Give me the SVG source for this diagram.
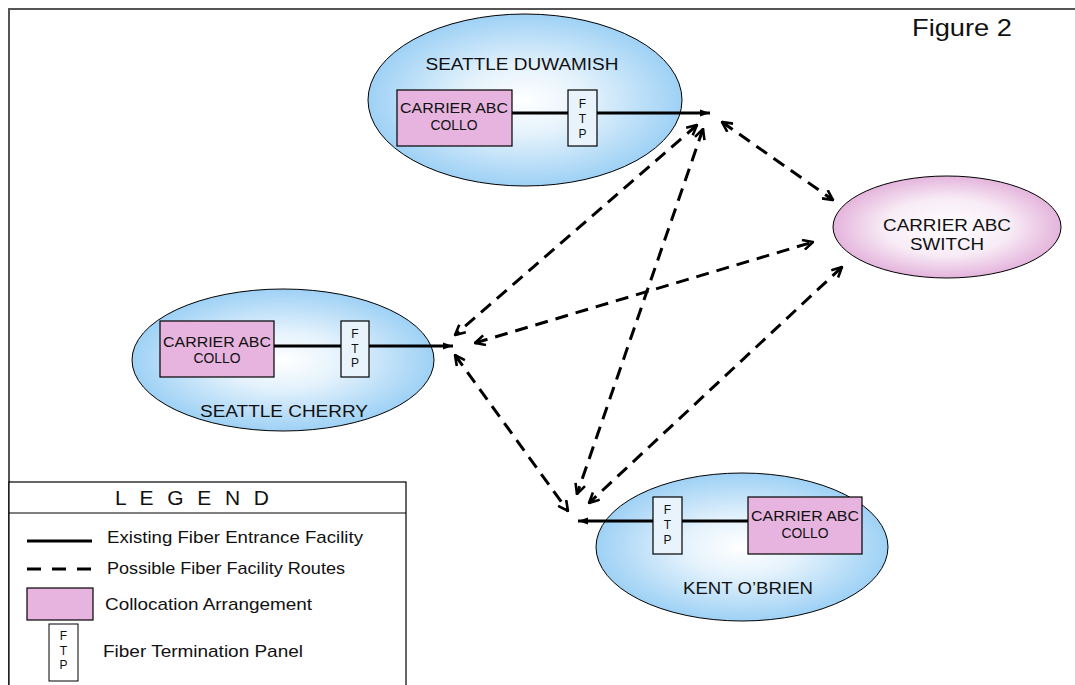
<svg xmlns="http://www.w3.org/2000/svg" width="1075" height="685" viewBox="0 0 1075 685">
<defs>
<radialGradient id="blue" cx="50%" cy="50%" r="50%">
<stop offset="0" stop-color="#ffffff"/>
<stop offset="0.4" stop-color="#e4f2fc"/>
<stop offset="1" stop-color="#9ed1f5"/>
</radialGradient>
<radialGradient id="pink" cx="50%" cy="50%" r="50%">
<stop offset="0" stop-color="#ffffff"/>
<stop offset="0.55" stop-color="#f8ecf6"/>
<stop offset="1" stop-color="#e4b4dc"/>
</radialGradient>
<marker id="open" viewBox="0 0 12 12" refX="11" refY="6" markerWidth="12" markerHeight="12" markerUnits="userSpaceOnUse" orient="auto-start-reverse">
<path d="M1,1 L11,6 L1,11" fill="none" stroke="#000" stroke-width="2.6"/>
</marker>
<marker id="solid" viewBox="0 0 10 10" refX="10" refY="5" markerWidth="10" markerHeight="10" markerUnits="userSpaceOnUse" orient="auto">
<path d="M0,1.5 L10,5 L0,8.5 Z" fill="#000"/>
</marker>
</defs>
<style>
text{font-family:"Liberation Sans",Arial,sans-serif;fill:#111}
.node{stroke:#000;stroke-width:1}
.collo{fill:#e6b4de;stroke:#000;stroke-width:1.2}
.ftp{fill:#e8f3fb;stroke:#000;stroke-width:1.2}
.lbl{font-size:16px;text-anchor:middle}
.cl{font-size:14px;text-anchor:middle}
.ft{font-size:12px;text-anchor:middle}
.exist{stroke:#000;stroke-width:3;fill:none}
.arr{marker-end:url(#solid)}
.route{stroke:#000;stroke-width:3;fill:none;stroke-dasharray:13 8;marker-start:url(#open);marker-end:url(#open)}
.frame{stroke:#555;stroke-width:2;fill:none}
.leg{font-size:17px}
</style>
<g id="frame">
<path class="frame" d="M9,686 L9,9 L1076,9"/>
</g>
<text x="912" y="36" style="font-size:24px" textLength="100" lengthAdjust="spacingAndGlyphs">Figure 2</text>
<g id="seattle-duwamish">
<ellipse class="node" cx="525" cy="100" rx="157" ry="86" fill="url(#blue)"/>
<text class="lbl" x="522" y="70" textLength="193" lengthAdjust="spacingAndGlyphs">SEATTLE DUWAMISH</text>
<rect class="collo" x="397" y="90" width="115" height="56"/>
<text class="cl" x="454" y="113" textLength="108" lengthAdjust="spacingAndGlyphs">CARRIER ABC</text>
<text class="cl" x="454" y="130" textLength="47" lengthAdjust="spacingAndGlyphs">COLLO</text>
<rect class="ftp" x="568" y="90" width="29" height="56"/>
<text class="ft" x="582.5" y="108">F</text>
<text class="ft" x="582.5" y="123">T</text>
<text class="ft" x="582.5" y="138">P</text>
</g>
<g id="seattle-cherry">
<ellipse class="node" cx="283" cy="360" rx="151" ry="71" fill="url(#blue)"/>
<rect class="collo" x="160" y="321" width="114" height="56"/>
<text class="cl" x="217" y="347" textLength="108" lengthAdjust="spacingAndGlyphs">CARRIER ABC</text>
<text class="cl" x="217" y="363" textLength="47" lengthAdjust="spacingAndGlyphs">COLLO</text>
<rect class="ftp" x="341" y="321" width="28" height="56"/>
<text class="ft" x="355" y="338">F</text>
<text class="ft" x="355" y="353">T</text>
<text class="ft" x="355" y="367">P</text>
<text class="lbl" x="284" y="417" textLength="168" lengthAdjust="spacingAndGlyphs">SEATTLE CHERRY</text>
</g>
<g id="kent-obrien">
<ellipse class="node" cx="742" cy="547" rx="146" ry="74" fill="url(#blue)"/>
<rect class="ftp" x="653" y="497" width="29" height="57"/>
<text class="ft" x="667.5" y="514">F</text>
<text class="ft" x="667.5" y="529">T</text>
<text class="ft" x="667.5" y="544">P</text>
<rect class="collo" x="748" y="497" width="114" height="57"/>
<text class="cl" x="805" y="521" textLength="108" lengthAdjust="spacingAndGlyphs">CARRIER ABC</text>
<text class="cl" x="805" y="538" textLength="47" lengthAdjust="spacingAndGlyphs">COLLO</text>
<text class="lbl" x="748" y="594" textLength="130" lengthAdjust="spacingAndGlyphs">KENT O’BRIEN</text>
</g>
<g id="carrier-switch">
<ellipse class="node" cx="947" cy="227" rx="114" ry="51" fill="url(#pink)"/>
<text class="lbl" x="947" y="231" textLength="128" lengthAdjust="spacingAndGlyphs">CARRIER ABC</text>
<text class="lbl" x="947" y="250" textLength="74" lengthAdjust="spacingAndGlyphs">SWITCH</text>
</g>
<g id="connectors">
<path class="exist" d="M512,113 L568,113"/>
<path class="exist arr" d="M597,113 L710,113"/>
<path class="exist" d="M274,346 L341,346"/>
<path class="exist arr" d="M369,346 L453,346"/>
<path class="exist" d="M748,521 L682,521"/>
<path class="exist arr" d="M653,521 L578,521"/>
<path class="route" d="M697,125 L455,335"/>
<path class="route" d="M703,129 L577,494"/>
<path class="route" d="M722,122 L833,200"/>
<path class="route" d="M475,343 L813,242"/>
<path class="route" d="M455,355 L568,511"/>
<path class="route" d="M842,267 L589,503"/>
</g>
<g id="legend">
<rect x="9" y="482" width="397" height="210" fill="#fff" stroke="#000" stroke-width="1.2"/>
<line x1="9" y1="513" x2="406" y2="513" stroke="#000" stroke-width="1.2"/>
<text x="192" y="505" style="font-size:21px;text-anchor:middle" textLength="154" lengthAdjust="spacing">L E G E N D</text>
<line x1="27" y1="541" x2="92" y2="541" stroke="#000" stroke-width="3"/>
<text class="leg" x="107" y="543" textLength="256" lengthAdjust="spacingAndGlyphs">Existing Fiber Entrance Facility</text>
<line x1="27" y1="569" x2="92" y2="569" stroke="#000" stroke-width="3" stroke-dasharray="14 11"/>
<text class="leg" x="107" y="574" textLength="238" lengthAdjust="spacingAndGlyphs">Possible Fiber Facility Routes</text>
<rect class="collo" x="27" y="588" width="66" height="32"/>
<text class="leg" x="105" y="610" textLength="207" lengthAdjust="spacingAndGlyphs">Collocation Arrangement</text>
<rect x="49" y="624" width="29" height="57" fill="#fff" stroke="#000" stroke-width="1"/>
<text class="ft" x="63.5" y="640">F</text>
<text class="ft" x="63.5" y="655">T</text>
<text class="ft" x="63.5" y="669">P</text>
<text class="leg" x="103" y="657" textLength="200" lengthAdjust="spacingAndGlyphs">Fiber Termination Panel</text>
</g>
</svg>
